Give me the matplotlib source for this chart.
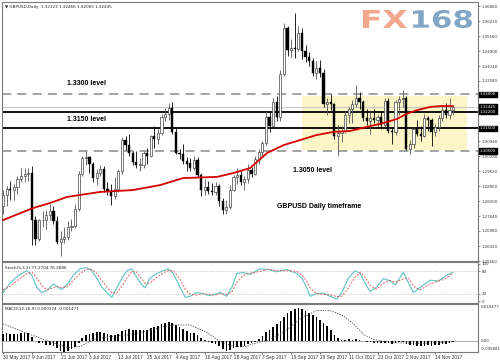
import matplotlib
matplotlib.use('Agg')
import matplotlib.pyplot as plt
import numpy as np
from matplotlib.patches import Rectangle, PathPatch
from matplotlib.textpath import TextPath
from matplotlib.font_manager import FontProperties
from matplotlib.transforms import Affine2D, blended_transform_factory

# ---------------- data ----------------
opens = [1.2810,1.2855,1.2885,1.2880,1.2890,1.2925,1.2940,1.2950,1.2955,1.2745,
1.2665,1.2745,1.2745,1.2770,1.2785,1.2740,1.2650,1.2665,1.2670,1.2715,
1.2720,1.2795,1.2950,1.3020,1.3025,1.2995,1.2930,1.2955,1.2970,1.2885,
1.2875,1.2850,1.2885,1.2960,1.3100,1.3075,1.3040,1.3000,1.2990,1.2990,
1.3040,1.3030,1.3115,1.3105,1.3130,1.3200,1.3215,1.3240,1.3135,1.3040,
1.3035,1.3005,1.2995,1.2975,1.3010,1.2945,1.2880,1.2890,1.2875,1.2870,
1.2895,1.2830,1.2790,1.2805,1.2880,1.2935,1.2945,1.2915,1.2925,1.2965,
1.2950,1.3015,1.3045,1.3085,1.3200,1.3160,1.3265,1.3200,1.3390,1.3590,
1.3495,1.3505,1.3500,1.3570,1.3490,1.3465,1.3445,1.3395,1.3415,1.3395,
1.3255,1.3265,1.3255,1.3115,1.3130,1.3140,1.3210,1.3235,1.3255,1.3285,
1.3265,1.3195,1.3180,1.3195,1.3185,1.3200,1.3165,1.3270,1.3140,1.3135,
1.3265,1.3280,1.3285,1.3060,1.3080,1.3145,1.3125,1.3115,1.3195,1.3185,
1.3135,1.3155,1.3195,1.3230,1.3210,1.32323]
highs = [1.2880,1.2895,1.2920,1.2905,1.2940,1.2975,1.2975,1.2975,1.2985,1.2765,
1.2750,1.2785,1.2790,1.2815,1.2810,1.2765,1.2700,1.2715,1.2740,1.2750,
1.2815,1.2960,1.3030,1.3050,1.3030,1.3000,1.2970,1.2990,1.2985,1.2915,
1.2905,1.2935,1.2970,1.3110,1.3115,1.3125,1.3050,1.3050,1.3020,1.3050,
1.3065,1.3120,1.3160,1.3145,1.3215,1.3240,1.3260,1.3267,1.3150,1.3060,
1.3080,1.3025,1.3020,1.3030,1.3025,1.2955,1.2925,1.2920,1.2910,1.2915,
1.2905,1.2845,1.2835,1.2900,1.2945,1.2975,1.2960,1.2940,1.2995,1.2980,
1.3030,1.3060,1.3095,1.3225,1.3220,1.3285,1.3290,1.3405,1.3615,1.3600,
1.3545,1.3657,1.3600,1.3590,1.3515,1.3485,1.3460,1.3445,1.3450,1.3410,
1.3285,1.3300,1.3260,1.3165,1.3160,1.3225,1.3245,1.3275,1.3340,1.3310,
1.3275,1.3235,1.3225,1.3235,1.3215,1.3225,1.3285,1.3285,1.3155,1.3275,
1.3290,1.3320,1.3290,1.3100,1.3155,1.3185,1.3160,1.3215,1.3205,1.3195,
1.3170,1.3210,1.3245,1.3260,1.3282,1.32466]
lows = [1.2775,1.2810,1.2835,1.2835,1.2860,1.2915,1.2915,1.2920,1.2635,1.2635,
1.2655,1.2715,1.2705,1.2745,1.2730,1.2640,1.2590,1.2645,1.2660,1.2700,
1.2710,1.2785,1.2940,1.2990,1.2955,1.2915,1.2900,1.2940,1.2870,1.2855,
1.2812,1.2840,1.2870,1.2950,1.3055,1.3030,1.2990,1.2975,1.2960,1.2975,
1.2995,1.3025,1.3065,1.3080,1.3120,1.3180,1.3185,1.3125,1.3035,1.3015,
1.2995,1.2960,1.2960,1.2965,1.2935,1.2850,1.2855,1.2860,1.2855,1.2855,
1.2810,1.2775,1.2774,1.2795,1.2875,1.2905,1.2900,1.2880,1.2910,1.2935,
1.2945,1.2995,1.3030,1.3075,1.3135,1.3155,1.3180,1.3180,1.3380,1.3470,
1.3465,1.3460,1.3490,1.3455,1.3440,1.3425,1.3380,1.3365,1.3375,1.3245,
1.3210,1.3230,1.3105,1.3027,1.3090,1.3130,1.3175,1.3175,1.3245,1.3235,
1.3180,1.3165,1.3125,1.3175,1.3155,1.3145,1.3155,1.3130,1.3080,1.3120,
1.3210,1.3245,1.3055,1.3035,1.3065,1.3115,1.3095,1.3110,1.3140,1.3070,
1.3115,1.3140,1.3180,1.3195,1.3190,1.32083]
closes = [1.2855,1.2885,1.2880,1.2890,1.2925,1.2940,1.2950,1.2955,1.2745,1.2665,
1.2745,1.2745,1.2770,1.2785,1.2740,1.2650,1.2665,1.2670,1.2715,1.2720,
1.2795,1.2950,1.3020,1.3025,1.2995,1.2930,1.2955,1.2970,1.2885,1.2875,
1.2850,1.2885,1.2960,1.3100,1.3075,1.3040,1.3000,1.2990,1.2990,1.3040,
1.3030,1.3115,1.3105,1.3130,1.3200,1.3215,1.3240,1.3135,1.3040,1.3035,
1.3005,1.2995,1.2975,1.3010,1.2945,1.2880,1.2890,1.2875,1.2870,1.2895,
1.2830,1.2790,1.2805,1.2880,1.2935,1.2945,1.2915,1.2925,1.2965,1.2950,
1.3015,1.3045,1.3085,1.3200,1.3160,1.3265,1.3200,1.3390,1.3590,1.3495,
1.3505,1.3500,1.3570,1.3490,1.3465,1.3445,1.3395,1.3415,1.3395,1.3255,
1.3265,1.3255,1.3115,1.3130,1.3140,1.3210,1.3235,1.3255,1.3285,1.3265,
1.3195,1.3180,1.3195,1.3185,1.3200,1.3165,1.3270,1.3140,1.3135,1.3265,
1.3280,1.3285,1.3060,1.3080,1.3145,1.3125,1.3115,1.3195,1.3185,1.3135,
1.3155,1.3195,1.3230,1.3210,1.3232,1.32445]

# 50-day moving average, read at selected bars
ma_bars = [0, 8.3, 13, 17.8, 27, 36, 43.6, 50, 59.4, 64, 68.6, 73.3, 77.9, 82.5,
           87, 91.7, 96.4, 101, 105.6, 109.4, 112, 115, 118.6, 122, 125]
ma_vals = [1.2746, 1.2799, 1.2821, 1.2848, 1.2870, 1.2878, 1.2900, 1.2931, 1.2936,
           1.2953, 1.2975, 1.3041, 1.3076, 1.3098, 1.3120, 1.3134, 1.3138, 1.3156,
           1.3173, 1.3191, 1.3213, 1.3230, 1.3244, 1.3248, 1.3248]

# Stochastic (main & signal), read at selected bars
stoch_bars = [0, 2, 4.3, 6.6, 8, 9.4, 10.7, 12.1, 14, 15.4, 16.3, 17.7, 19.5, 21.4,
              23.2, 24.6, 26, 27.4, 28.8, 30.2, 31.6, 33, 34.4, 35.7, 37.1, 38.5,
              39.4, 40.8, 42.7, 44.5, 45.9, 47.3, 49.2, 50.6, 52, 53.8, 55.6, 57,
              58.9, 60.3, 62.1, 63.5, 64.9, 66.8, 68.6, 71.4, 73.7, 76, 78.8, 81.6,
              83, 84.3, 85.3, 87.1, 89, 90.8, 92.7, 94.1, 95.9, 97.8, 99.2, 100.5,
              101.9, 103.8, 105.6, 107.5, 108.9, 111.2, 112.6, 114, 115.8, 118.6,
              120.9, 122.3, 123.7, 124.9]
stoch_main = [23, 49, 69, 82, 69, 36, 23, 28, 46, 36, 31, 44, 69, 87, 90, 82, 62,
              38, 23, 10, 36, 62, 82, 87, 64, 44, 36, 62, 74, 82, 87, 74, 36, 10,
              13, 23, 20, 15, 18, 23, 13, 36, 74, 77, 72, 87, 85, 79, 85, 74, 62,
              36, 13, 20, 21, 13, 5, 23, 62, 82, 74, 49, 26, 38, 61, 54, 44, 77,
              49, 23, 36, 56, 54, 64, 72, 77.3]
stoch_signal = [30, 40, 58, 74, 78, 62, 42, 30, 36, 40, 36, 38, 55, 75, 86, 86, 75,
                56, 38, 22, 22, 40, 62, 80, 78, 60, 48, 48, 64, 76, 82, 82, 58, 32,
                18, 16, 20, 18, 16, 20, 18, 24, 50, 70, 75, 80, 86, 82, 82, 80, 70,
                55, 35, 20, 18, 17, 12, 13, 35, 65, 78, 66, 42, 32, 48, 56, 50, 60,
                62, 40, 30, 46, 54, 58, 66, 76.3]

# MACD histogram (one per bar) and signal line (read at selected bars)
macd_hist = [0.0020,0.0021,0.0020,0.0019,0.0020,0.0021,0.0022,0.0023,0.0010,-0.0002,
-0.0006,-0.0008,-0.0012,-0.0014,-0.0016,-0.0022,-0.0030,-0.0033,-0.0030,-0.0026,
-0.0018,-0.0006,0.0006,0.0015,0.0020,0.0022,0.0024,0.0025,0.0023,0.0020,
0.0016,0.0015,0.0018,0.0027,0.0032,0.0033,0.0032,0.0031,0.0030,0.0031,
0.0032,0.0036,0.0039,0.0042,0.0048,0.0053,0.0056,0.0053,0.0046,0.0040,
0.0033,0.0028,0.0023,0.0021,0.0016,0.0008,0.0002,-0.0003,-0.0008,-0.0011,
-0.0017,-0.0025,-0.0032,-0.0028,-0.0022,-0.0020,-0.0018,-0.0015,-0.0010,-0.0007,
-0.0003,0.0005,0.0013,0.0025,0.0030,0.0040,0.0048,0.0057,0.0071,0.0080,
0.0088,0.0093,0.0095,0.0094,0.0088,0.0081,0.0076,0.0070,0.0062,0.0053,
0.0042,0.0032,0.0017,0.0006,0.0001,0.0002,0.0003,0.0002,0.0003,0.0001,
-0.0001,-0.0003,-0.0005,-0.0006,-0.0007,-0.0008,-0.0006,-0.0008,-0.0010,-0.0007,
-0.0005,-0.0004,-0.0009,-0.0013,-0.0014,-0.0015,-0.0016,-0.0015,-0.0014,-0.0015,
-0.0014,-0.0013,-0.0011,-0.0009,-0.0007,-0.0005]
macd_sig_bars = [0, 7.5, 13, 17.7, 21.4, 25, 29.7, 36.2, 41.8, 47.3, 52, 56.6, 60.3,
                 64, 67.7, 68.6, 73.2, 77.9, 82.5, 87.1, 90.8, 94.5, 97.3, 100.1,
                 102.9, 107.5, 113, 118.6, 124.2, 125]
macd_sig_vals = [0.0049, 0.0018, -0.0003, -0.0021, -0.0018, 0.0003, 0.0012, 0.0018,
                 0.0034, 0.0046, 0.0046, 0.0024, -0.0003, -0.0018, -0.0018, -0.0012,
                 0.0000, 0.0024, 0.0064, 0.0089, 0.0089, 0.0073, 0.0049, 0.0018,
                 0.0003, -0.0006, -0.0008, -0.0008, -0.0004, -0.0003]

date_idx = [0, 8, 16, 24, 32, 40, 48, 56, 64, 72, 80, 88, 96, 104, 112, 120]
date_labels = ["30 May 2017", "9 Jun 2017", "21 Jun 2017", "3 Jul 2017", "13 Jul 2017",
               "25 Jul 2017", "4 Aug 2017", "16 Aug 2017", "28 Aug 2017", "7 Sep 2017",
               "19 Sep 2017", "29 Sep 2017", "11 Oct 2017", "23 Oct 2017", "2 Nov 2017",
               "14 Nov 2017"]
price_ticks = [1.3688, 1.3622, 1.3556, 1.3490, 1.3424, 1.3358, 1.3094, 1.3028,
               1.2962, 1.2896, 1.2830, 1.2764, 1.2698, 1.2632, 1.2566]
level_dashed = [1.3300, 1.3050]
level_solid = [1.3222, 1.3150]
bid_price = 1.32445
marked_labels = [(1.3300, "1.33000"), (1.32445, "1.32445"), (1.3222, "1.32200"),
                 (1.3150, "1.31500"), (1.3050, "1.30500")]

# ---------------- figure ----------------
W, H = 500, 362
fig = plt.figure(figsize=(W / 100, H / 100), dpi=100)
fig.patch.set_facecolor('white')

def fr(top_px, bot_px):
    return 1 - bot_px / H, (bot_px - top_px) / H

L, Wd = 2 / W, 476 / W
b, h = fr(2, 261)
ax = fig.add_axes([L, b, Wd, h])
b, h = fr(262, 303)
ax2 = fig.add_axes([L, b, Wd, h])
b, h = fr(304, 352)
ax3 = fig.add_axes([L, b, Wd, h])

XL = (-0.3, 131.9)
spine_c = '#7a7a7a'
for a in (ax, ax2, ax3):
    a.set_xlim(*XL)
    for s in a.spines.values():
        s.set_color(spine_c)
        s.set_linewidth(0.8)
    a.yaxis.tick_right()
    a.tick_params(axis='y', labelsize=2.8, length=1.5, width=0.4, pad=1,
                  colors='#333333')
    a.set_facecolor('white')

txt_font = 'Liberation Sans'

# ---- main price panel ----
o = np.array(opens); hi = np.array(highs); lo = np.array(lows); c = np.array(closes)
x = np.arange(len(o))
up = c >= o
ax.set_ylim(1.2566, 1.37056)

ax.add_patch(Rectangle((83.1, 1.3055), 128.9 - 83.1, 1.3290 - 1.3055,
                       facecolor='#fbf5c8', edgecolor='none', zorder=1))
for lv in level_dashed:
    ax.axhline(lv, color='#8a8a8a', lw=1.1, ls=(0, (6, 4)), zorder=2)
for lv in level_solid:
    ax.axhline(lv, color='black', lw=1.3, zorder=2)
ax.axhline(bid_price, color='#bdbdbd', lw=0.6, zorder=2)

ax.vlines(x[up], lo[up], hi[up], color='#555555', lw=0.6, zorder=3)
ax.vlines(x[~up], lo[~up], hi[~up], color='black', lw=0.6, zorder=3)
bw = 0.62
ax.bar(x[up], np.maximum(c[up] - o[up], 0.00015), bottom=o[up], width=bw,
       facecolor='white', edgecolor='#444444', lw=0.5, zorder=4)
ax.bar(x[~up], np.maximum(o[~up] - c[~up], 0.00015), bottom=c[~up], width=bw,
       facecolor='black', edgecolor='black', lw=0.3, zorder=4)
ax.plot(ma_bars, ma_vals, color='#d40000', lw=1.3, zorder=5, solid_capstyle='round')

ax.set_yticks(price_ticks)
ax.set_yticklabels([f"{v:.5f}" for v in price_ticks])
ax.set_xticks([])
trb = blended_transform_factory(ax.transAxes, ax.transData)
for v, s in marked_labels:
    ax.text(1.004, v, s, transform=trb, fontsize=2.8, color='white', va='center',
            ha='left', bbox=dict(boxstyle='square,pad=0.15', fc='black', ec='black'),
            clip_on=False, zorder=10)

ax.text(0.006, 0.982, "\u25bc GBPUSD,Daily  1.32323 1.32466 1.32083 1.32445",
        transform=ax.transAxes, fontsize=3, va='center', ha='left',
        family=['DejaVu Sans'], color='#222222')
bold = dict(family=txt_font, weight='bold', fontsize=5, va='center', ha='left',
            color='black', zorder=8)
ax.text(17.8, 1.3349, "1.3300 level", **bold)
ax.text(17.8, 1.3189, "1.3150 level", **bold)
ax.text(80.6, 1.2966, "1.3050 level", **bold)
ax.text(76.1, 1.2804, "GBPUSD Daily timeframe", **bold)

# FX168 logo
fp = FontProperties(family='DejaVu Sans', weight='bold')
def logo(s, x0, x1, ytop, ybot, col):
    tp = TextPath((0, 0), s, size=1, prop=fp)
    bb = tp.get_extents()
    sx = (x1 - x0) / W / bb.width
    sy = (ybot - ytop) / H / bb.height
    tr = (Affine2D().translate(-bb.x0, -bb.y0).scale(sx, sy)
          .translate(x0 / W, 1 - ybot / H) + fig.transFigure)
    fig.patches.append(PathPatch(tp, transform=tr, facecolor=col, edgecolor='none'))
logo("FX", 363, 407, 10, 28, '#f3a78c')
logo("168", 413, 472, 10, 28, '#82a6c5')

# ---- stochastic panel ----
ax2.set_ylim(-5.4, 105.4)
for lv in (20, 80):
    ax2.axhline(lv, color='#a8a8a8', lw=0.5, ls=(0, (1, 1.5)))
ax2.plot(stoch_bars, stoch_main, color='#6cc8c6', lw=0.9)
ax2.plot(stoch_bars, stoch_signal, color='#e06060', lw=0.7, ls=(0, (2, 1.5)))
ax2.set_yticks([100, 80, 20, 0])
ax2.set_yticklabels(["100", "80", "20", "0"])
ax2.set_xticks([])
ax2.text(0.006, 0.9, "Stoch(5,3,3) 77.2704 76.2886", transform=ax2.transAxes,
         fontsize=3, va='top', ha='left', color='#222222')

# ---- MACD panel ----
ax3.set_ylim(-0.0034, 0.0108)
ax3.axhline(0, color='#a0a0a0', lw=0.6)
ax3.bar(x, macd_hist, width=0.45, color='black', zorder=3)
ax3.plot(macd_sig_bars, macd_sig_vals, color='#444444', lw=0.6, ls=(0, (1.5, 1.5)),
         zorder=4)
ax3.set_yticks([])
ax3.text(1.006, 0.93, "0.010477", transform=ax3.transAxes, fontsize=2.8,
         va='center', ha='left', color='#333333')
ax3.text(1.006, 0.235, "0.00", transform=ax3.transAxes, fontsize=2.8,
         va='center', ha='left', color='#333333')
ax3.text(1.006, 0.06, "-0.005881", transform=ax3.transAxes, fontsize=2.8,
         va='center', ha='left', color='#333333')
ax3.text(0.006, 0.93, "MACD(12,26,9) 0.000174 -0.001471", transform=ax3.transAxes,
         fontsize=3, va='top', ha='left', color='#222222')
ax3.set_xticks(date_idx)
ax3.set_xticklabels(date_labels, fontsize=3.4, ha='left', family=txt_font,
                    color='#333333')
ax3.tick_params(axis='x', length=1.5, width=0.4, pad=1)

fig.savefig('out.png', dpi=100, facecolor='white')
